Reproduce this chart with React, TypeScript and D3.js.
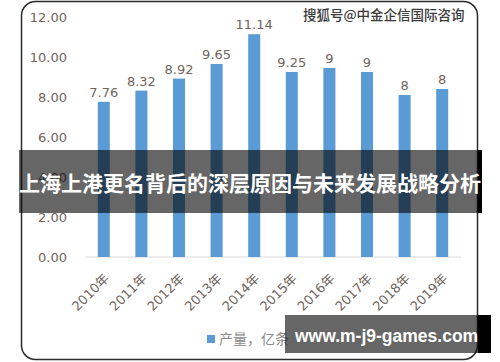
import React from "react"
import * as d3 from "d3"

// years on the x axis
const years = ["2010年", "2011年", "2012年", "2013年", "2014年", "2015年", "2016年", "2017年", "2018年", "2019年"]
// bar heights as drawn (亿条)
const output = [7.76, 8.32, 8.92, 9.65, 11.14, 9.25, 9.45, 9.25, 8.1, 8.4]
// data labels as printed on the chart
const outputLabels = ["7.76", "8.32", "8.92", "9.65", "11.14", "9.25", "9", "9", "8", "8"]
const yTicks = [0, 2, 4, 6, 8, 10, 12]

const seriesName = "产量，亿条"
const title = "上海上港更名背后的深层原因与未来发展战略分析"
const watermark = "搜狐号@中金企信国际咨询"
const siteMark = "www.m-j9-games.com"

const W = 500
const H = 362
const BLUE = "#5b9bd5"
const LABEL = "#6f655c"
const FONT = "'DejaVu Sans', 'Noto Sans CJK SC', sans-serif"
const CJK = "'Noto Sans CJK SC', sans-serif"

export default function App() {
  const x = d3.scaleBand<string>().domain(years).range([85, 461]).paddingInner(0.68).paddingOuter(0.34)
  const y = d3.scaleLinear().domain([0, 12]).range([257, 17])
  const fmt = d3.format(".2f")

  return (
    <svg width={W} height={H} style={{ position: "absolute", left: 0, top: 0, background: "#fff" }}>
      {/* chart frame */}
      <rect x={21.5} y={1.5} width={456} height={358} rx={14} fill="#fff" stroke="#2b2b2b" strokeWidth={1.5} />

      {/* y axis labels */}
      {yTicks.map(t => (
        <text key={t} x={67} y={y(t)} dy="0.35em" textAnchor="end" fontFamily={FONT} fontSize={13} fill={LABEL}>
          {fmt(t)}
        </text>
      ))}

      {/* baseline */}
      <line x1={85} x2={461} y1={y(0)} y2={y(0)} stroke="#d9d9d9" strokeWidth={1} />

      {/* bars */}
      {years.map((yr, i) => (
        <rect key={yr} x={x(yr)} y={y(output[i])} width={x.bandwidth()} height={y(0) - y(output[i])} fill={BLUE} />
      ))}

      {/* data labels */}
      {years.map((yr, i) => (
        <text
          key={yr}
          x={(x(yr) ?? 0) + x.bandwidth() / 2}
          y={y(output[i]) - 5}
          textAnchor="middle"
          fontFamily={FONT}
          fontSize={13}
          fill={LABEL}
        >
          {outputLabels[i]}
        </text>
      ))}

      {/* x axis labels */}
      {years.map(yr => {
        const cx = (x(yr) ?? 0) + x.bandwidth() / 2
        return (
          <text
            key={yr}
            transform={`translate(${cx + 3},${y(0) + 19}) rotate(-45)`}
            textAnchor="end"
            dy="0.35em"
            fontFamily={FONT}
            fontSize={13}
            fill={LABEL}
          >
            {yr}
          </text>
        )
      })}

      {/* legend */}
      <rect x={207} y={335} width={8} height={8} fill={BLUE} />
      <text x={219} y={339} dy="0.35em" fontFamily={CJK} fontSize={14} fill="#8a8a8a">
        {seriesName}
      </text>

      {/* watermark */}
      <text
        x={303}
        y={15}
        dy="0.35em"
        fontFamily={CJK}
        fontSize={13.5}
        fontWeight={500}
        fill="#3a3a3a"
        stroke="#fff"
        strokeWidth={1.5}
        paintOrder="stroke"
      >
        {watermark}
      </text>

      {/* title banner */}
      <rect x={19} y={150} width={463} height={63} fill="#000" fillOpacity={0.6} />
      <rect x={478} y={150} width={4} height={63} fill="#000" />
      <text x={250} y={184} dy="0.35em" textAnchor="middle" fontFamily={CJK} fontSize={21} fontWeight={700} fill="#fff">
        {title}
      </text>

      {/* site mark */}
      <rect x={285} y={315} width={206} height={38} fill="#000" fillOpacity={0.6} />
      <rect x={478} y={315} width={13} height={38} fill="#000" />
      <text x={295} y={336} dy="0.35em" fontFamily="'Liberation Sans', Arial, sans-serif" fontSize={17.5} fontWeight={700} fill="#fff">
        {siteMark}
      </text>
    </svg>
  )
}
